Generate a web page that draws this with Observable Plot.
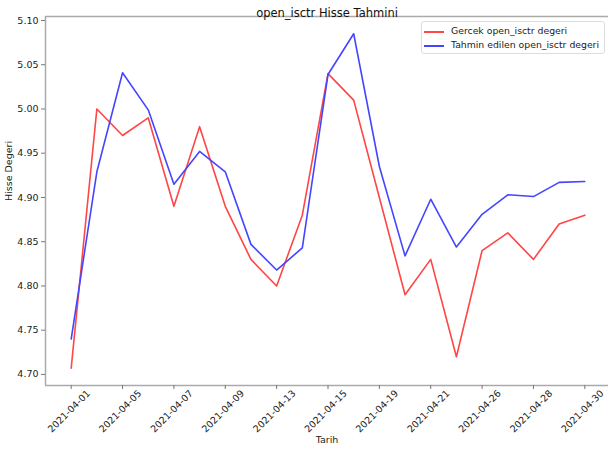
<!DOCTYPE html>
<html>
<head>
<meta charset="utf-8">
<script src="https://cdn.jsdelivr.net/npm/d3@7"></script>
<script src="https://cdn.jsdelivr.net/npm/@observablehq/plot@0.6"></script>
<style>
  body { margin: 0; background: #fff; }
  #wrap { position: relative; width: 608px; height: 452px; font-family: "DejaVu Sans", sans-serif; }
  #legend { position: absolute; left: 421px; top: 21px; width: 184px; height: 33px; border: 1px solid #ddd; border-radius: 3px; background: rgba(255,255,255,0.9); box-sizing: border-box; font-size: 9.3px; color: #222; }
  .row { position: absolute; left: 2px; height: 12px; line-height: 12px; white-space: nowrap; }
  .sw { display: inline-block; width: 20px; height: 2px; vertical-align: middle; margin-right: 7px; }
</style>
</head>
<body>
<div id="wrap"></div>
<script>
const dates = ["2021-04-01","2021-04-02","2021-04-05","2021-04-06","2021-04-07","2021-04-08","2021-04-09","2021-04-12","2021-04-13","2021-04-14","2021-04-15","2021-04-16","2021-04-19","2021-04-20","2021-04-21","2021-04-22","2021-04-26","2021-04-27","2021-04-28","2021-04-29","2021-04-30"];
const actual = [4.707,5.00,4.97,4.99,4.89,4.98,4.89,4.83,4.80,4.88,5.04,5.01,4.90,4.79,4.83,4.72,4.84,4.86,4.83,4.87,4.88];
const predicted = [4.740,4.929,5.041,4.999,4.915,4.952,4.929,4.847,4.818,4.843,5.039,5.085,4.935,4.834,4.898,4.844,4.881,4.903,4.901,4.917,4.918];
const xTickIdx = [0,2,4,6,8,10,12,14,16,18,20];
const yTicks = [4.70,4.75,4.80,4.85,4.90,4.95,5.00,5.05,5.10];
const title = "open_isctr Hisse Tahmini";
const xLabel = "Tarih";
const yLabel = "Hisse Degeri";
const seriesNames = ["Gercek open_isctr degeri", "Tahmin edilen open_isctr degeri"];
const colors = ["#ff4545", "#4545ff"];

const actualData = actual.map((v, i) => ({i, v}));
const predData = predicted.map((v, i) => ({i, v}));
const yDom = [4.6875, 5.1045];
const spine = "#aaaaaa";

const chart = Plot.plot({
  width: 608, height: 452,
  marginTop: 16, marginBottom: 67, marginLeft: 45, marginRight: 0,
  style: {fontFamily: "DejaVu Sans, sans-serif", color: "#222", background: "#fff"},
  x: {domain: [-1, 21], range: [45, 610], axis: null},
  y: {domain: yDom, axis: null},
  marks: [
    Plot.ruleY([yDom[0]], {stroke: spine, strokeWidth: 1.5}),
    Plot.ruleY([yDom[1]], {stroke: spine, strokeWidth: 1.5}),
    Plot.ruleX([-1], {stroke: spine, strokeWidth: 1.5}),
    Plot.axisX(xTickIdx, {tickSize: 4, tickFormat: () => "", stroke: "#777", label: null}),
    Plot.axisY(yTicks, {tickSize: 4, tickPadding: 3, tickFormat: d => d.toFixed(2), fontSize: 9.5, stroke: "#777", fill: "#222", label: null}),
    Plot.text(xTickIdx, {x: d => d, frameAnchor: "bottom", text: d => dates[d], rotate: -45, dy: 28, fontSize: 9.5, fill: "#222", textAnchor: "middle"}),
    Plot.line(actualData, {x: "i", y: "v", stroke: colors[0], strokeWidth: 1.6}),
    Plot.line(predData, {x: "i", y: "v", stroke: colors[1], strokeWidth: 1.6}),
    Plot.text([title], {frameAnchor: "top", dy: -8, fontSize: 11.5, fill: "#111"}),
    Plot.text([xLabel], {frameAnchor: "bottom", dy: 57, fontSize: 9.5, fill: "#222"}),
    Plot.text([yLabel], {frameAnchor: "left", dx: -37, rotate: -90, fontSize: 9.5, fill: "#222"})
  ]
});
const wrap = document.getElementById("wrap");
wrap.appendChild(chart);
const legend = document.createElement("div");
legend.id = "legend";
seriesNames.forEach((name, k) => {
  const row = document.createElement("div");
  row.className = "row";
  row.style.top = (3 + k * 14) + "px";
  const sw = document.createElement("span");
  sw.className = "sw";
  sw.style.background = colors[k];
  row.appendChild(sw);
  row.appendChild(document.createTextNode(name));
  legend.appendChild(row);
});
wrap.appendChild(legend);
</script>
</body>
</html>
